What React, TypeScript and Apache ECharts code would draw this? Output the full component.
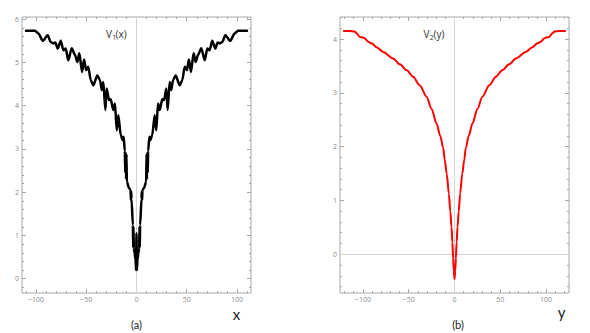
import React, { useEffect, useRef } from "react";
import * as echarts from "echarts";

// V1(x) — panel (a)
const v1Left: [number, number][] = [
  [-110, 5.73], [-101, 5.73], [-97.7, 5.67], [-93.3, 5.5], [-88.4, 5.63], [-85.4, 5.47],
  [-82.8, 5.44], [-80.8, 5.46], [-78.4, 5.32], [-75.4, 5.5], [-72.8, 5.28], [-70.5, 5.32],
  [-67.9, 5.05], [-64.5, 5.33], [-61.2, 5.17], [-58.9, 5.01], [-56.9, 5.21], [-54.2, 4.78],
  [-52.2, 5.07], [-50.2, 4.82], [-48, 4.9], [-45.6, 4.59], [-43, 4.47], [-39, 4.7],
  [-36.3, 4.59], [-34.6, 4.36], [-33, 4.55], [-31, 3.9], [-29.7, 4.4], [-27.4, 4.13],
  [-25.7, 4.15], [-23.1, 3.9], [-21.4, 4.05], [-19.7, 3.43], [-18.1, 3.78], [-15.7, 3.32],
  [-13.7, 3.2], [-12.8, 3.28], [-11.6, 2.95], [-11.2, 2.45], [-10.8, 2.92], [-10.4, 2.3],
  [-10.0, 2.88], [-9.6, 2.24], [-7.5, 2.1], [-5.9, 2.05], [-5.6, 1.82], [-5.3, 2.02],
  [-5.0, 1.85], [-3.6, 1.24], [-3.3, 0.72], [-3.0, 1.2], [-2.7, 0.7], [-2.0, 0.6],
  [-1.0, 0.45], [-0.4, 0.2],
];
const v1Center: [number, number][] = [[0, 1.05]];
const v1Right: [number, number][] = [
  [0.4, 0.2], [1.0, 0.45], [2.0, 0.6], [2.7, 0.7], [3.0, 1.2], [3.3, 0.72], [3.6, 1.24],
  [5.0, 1.85], [5.3, 2.02], [5.6, 1.82], [5.9, 2.05], [7.5, 2.1], [9.6, 2.24], [10.0, 2.88],
  [10.4, 2.3], [10.8, 2.92], [11.2, 2.45], [11.6, 2.95], [12.8, 3.28], [13.7, 3.2],
  [15.7, 3.32], [18.1, 3.78], [19.7, 3.43], [21.4, 4.05], [23.1, 3.9], [25.7, 4.15],
  [27.4, 4.13], [29.7, 4.4], [31, 3.9], [33, 4.55], [34.6, 4.36], [36.3, 4.59], [39, 4.7],
  [43, 4.47], [45.6, 4.59], [48, 4.9], [50.2, 4.82], [52.2, 5.07], [54.2, 4.78],
  [56.9, 5.21], [58.9, 5.01], [61.2, 5.17], [64.5, 5.33], [67.9, 5.05], [70.5, 5.32],
  [72.8, 5.28], [75.4, 5.5], [78.4, 5.32], [80.8, 5.46], [82.8, 5.44], [85.4, 5.47],
  [88.4, 5.63], [93.3, 5.5], [97.7, 5.67], [101, 5.73], [110, 5.73],
];

// V2(y) — panel (b)
const v2Left: [number, number][] = [
  [-121.5, 4.15], [-115, 4.15], [-109, 4.14], [-107, 4.11], [-103.3, 4.04], [-100, 4.03],
  [-97.8, 4.01], [-94.2, 3.95], [-90.5, 3.92], [-85, 3.85], [-77.9, 3.76], [-67, 3.64],
  [-59.7, 3.53], [-52, 3.42], [-45.2, 3.3], [-38, 3.14], [-30.5, 2.93], [-25, 2.7],
  [-19.6, 2.43], [-15.5, 2.2], [-12.4, 1.98], [-10.6, 1.75], [-8.5, 1.5], [-6.2, 1.13],
  [-4.6, 0.8], [-3.3, 0.51], [-2.3, 0.22], [-1.5, -0.08], [-0.8, -0.3], [0, -0.46],
];
const v2Right: [number, number][] = [
  [0.8, -0.3], [1.5, -0.08], [2.3, 0.22], [3.3, 0.51], [4.6, 0.8], [6.2, 1.13], [8.5, 1.5],
  [10.6, 1.75], [12.4, 1.98], [15.5, 2.2], [19.6, 2.43], [25, 2.7], [30.5, 2.93], [38, 3.14],
  [45.2, 3.3], [52, 3.42], [59.7, 3.53], [67, 3.64], [77.9, 3.76], [85, 3.85],
  [90.5, 3.92], [94.2, 3.95], [97.8, 4.01], [100, 4.03], [103.3, 4.04], [107, 4.11],
  [109, 4.14], [115, 4.15], [121.5, 4.15],
];

// Tick positions
const xMajorA = [-100, -50, 0, 50, 100];
const yMajorA = [0, 1, 2, 3, 4, 5, 6];
const xMajorB = [-100, -50, 0, 50, 100];
const yMajorB = [0, 1, 2, 3, 4];

function minorTicks(min: number, max: number, step: number, major: number) {
  const out: number[] = [];
  const n0 = Math.ceil(min / step - 1e-9);
  const n1 = Math.floor(max / step + 1e-9);
  for (let i = n0; i <= n1; i++) {
    const v = Math.round(i * step * 1000) / 1000;
    if (Math.abs(v / major - Math.round(v / major)) > 1e-6) out.push(v);
  }
  return out;
}

const fmt = (v: number) => (v < 0 ? "\u2212" + Math.abs(v) : String(v));

function makeAxes(dim: "x" | "y", gridIndex: number, min: number, max: number, major: number[], minor: number[]) {
  const posA = dim === "x" ? "bottom" : "left";
  const posB = dim === "x" ? "top" : "right";
  const base = (position: string, values: number[], len: number, showLabel: boolean) => ({
    type: "value",
    gridIndex,
    min,
    max,
    position,
    axisLine: { show: false, onZero: false },
    splitLine: { show: false },
    minorTick: { show: false },
    axisTick: {
      show: true,
      inside: true,
      length: len,
      customValues: values,
      lineStyle: { color: "#a8a8a8", width: 1 },
    },
    axisLabel: showLabel
      ? {
          show: true,
          customValues: major,
          fontSize: 7,
          color: "#8c8c8c",
          margin: 3,
          fontFamily: "Open Sans",
          formatter: fmt,
        }
      : { show: false },
  });
  return [
    base(posA, major, 4, true),
    base(posA, minor, 2, false),
    base(posB, major, 4, false),
    base(posB, minor, 2, false),
  ];
}

export default function App() {
  const ref = useRef<HTMLDivElement>(null);
  useEffect(() => {
    if (!ref.current) return;
    const chart = echarts.init(ref.current, null, { renderer: "svg" });
    const xA = [-114, 114];
    const yA = [-0.33, 6.05];
    const xB = [-125, 125];
    const yB = [-0.72, 4.41];
    const zeroLine = (data: any[], xi: number, yi: number) => ({
      type: "line",
      xAxisIndex: xi,
      yAxisIndex: yi,
      data: [],
      z: 1,
      markLine: {
        silent: true,
        z: 1,
        symbol: ["none", "none"],
        label: { show: false },
        lineStyle: { color: "#d4d4d4", width: 1, type: "solid" },
        data,
      },
    });
    const option: any = {
      animation: false,
      backgroundColor: "#ffffff",
      grid: [
        { left: 22, top: 17, width: 229, height: 276, show: true, borderColor: "#a8a8a8", borderWidth: 1, backgroundColor: "transparent" },
        { left: 340, top: 17, width: 229, height: 276, show: true, borderColor: "#a8a8a8", borderWidth: 1, backgroundColor: "transparent" },
      ],
      xAxis: [
        ...makeAxes("x", 0, xA[0], xA[1], xMajorA, minorTicks(xA[0], xA[1], 10, 50)),
        ...makeAxes("x", 1, xB[0], xB[1], xMajorB, minorTicks(xB[0], xB[1], 10, 50)),
      ],
      yAxis: [
        ...makeAxes("y", 0, yA[0], yA[1], yMajorA, minorTicks(yA[0], yA[1], 0.2, 1)),
        ...makeAxes("y", 1, yB[0], yB[1], yMajorB, minorTicks(yB[0], yB[1], 0.2, 1)),
      ],
      series: [
        zeroLine([{ xAxis: 0 }], 0, 0),
        zeroLine([{ xAxis: 0 }, { yAxis: 0 }], 4, 4),
        {
          type: "line",
          xAxisIndex: 0,
          yAxisIndex: 0,
          z: 3,
          symbol: "none",
          smooth: 0.25,
          smoothMonotone: "x",
          data: [...v1Left, ...v1Center, ...v1Right],
          lineStyle: { color: "#000000", width: 2.5, join: "round", cap: "round" },
        },
        {
          type: "line",
          xAxisIndex: 4,
          yAxisIndex: 4,
          z: 3,
          symbol: "none",
          smooth: 0.3,
          smoothMonotone: "x",
          data: [...v2Left, ...v2Right],
          lineStyle: { color: "#ff0000", width: 2, join: "round" },
        },
      ],
      graphic: [
        { type: "text", x: 106, y: 34, style: { text: "V", fontSize: 10, fontFamily: "Open Sans", fill: "#333", align: "left", verticalAlign: "middle" } },
        { type: "text", x: 112.3, y: 37, style: { text: "1", fontSize: 7, fontFamily: "Open Sans", fill: "#333", align: "left", verticalAlign: "middle" } },
        { type: "text", x: 115.5, y: 34, style: { text: "(x)", fontSize: 10, fontFamily: "Open Sans", fill: "#333", align: "left", verticalAlign: "middle" } },
        { type: "text", x: 423.5, y: 34, style: { text: "V", fontSize: 10, fontFamily: "Open Sans", fill: "#333", align: "left", verticalAlign: "middle" } },
        { type: "text", x: 429.8, y: 37, style: { text: "2", fontSize: 7, fontFamily: "Open Sans", fill: "#333", align: "left", verticalAlign: "middle" } },
        { type: "text", x: 433.5, y: 34, style: { text: "(y)", fontSize: 10, fontFamily: "Open Sans", fill: "#333", align: "left", verticalAlign: "middle" } },
        { type: "text", x: 136.5, y: 324, style: { text: "(a)", fontSize: 11, fontFamily: "Lato", fill: "#222", align: "center", verticalAlign: "middle" } },
        { type: "text", x: 458, y: 324, style: { text: "(b)", fontSize: 11, fontFamily: "Lato", fill: "#222", align: "center", verticalAlign: "middle" } },
        { type: "text", x: 236.5, y: 314, style: { text: "x", fontSize: 15, fontFamily: "Lato", fill: "#222", align: "center", verticalAlign: "middle" } },
        { type: "text", x: 561.5, y: 312, style: { text: "y", fontSize: 15, fontFamily: "Lato", fill: "#222", align: "center", verticalAlign: "middle" } },
      ],
    };
    chart.setOption(option);
    return () => chart.dispose();
  }, []);
  return (
    <div
      ref={ref}
      style={{ position: "fixed", left: 0, top: 0, width: 590, height: 333, background: "#fff" }}
    />
  );
}
